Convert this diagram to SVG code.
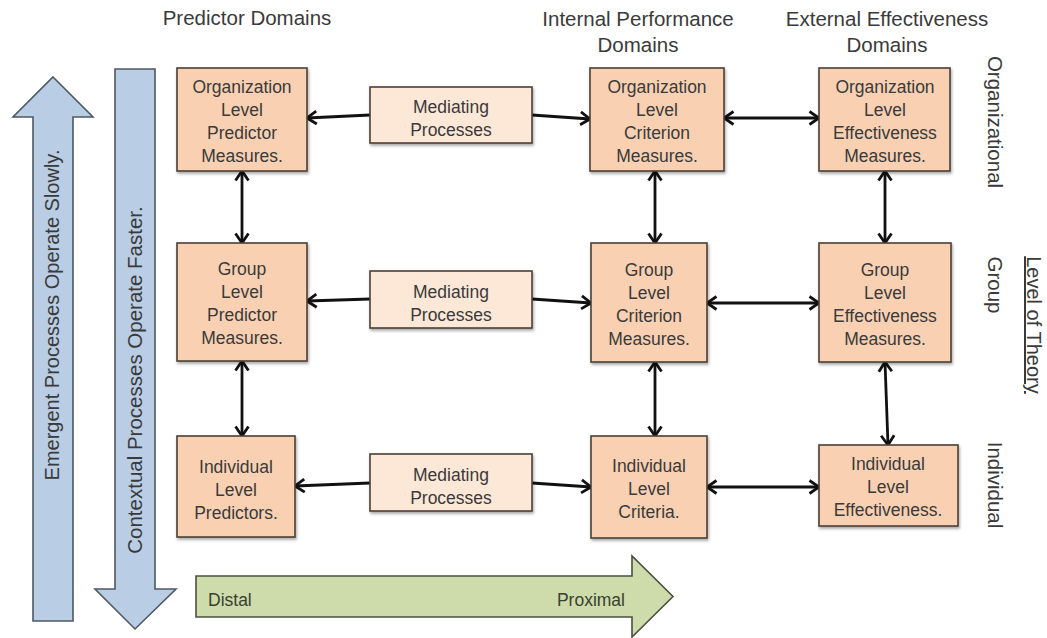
<svg xmlns="http://www.w3.org/2000/svg" width="1047" height="638" viewBox="0 0 1047 638">
<defs>
<style>
text{font-family:"Liberation Sans",Arial,sans-serif;fill:#3a3a3a}
.hd{font-size:20.5px;text-anchor:middle}
.nt{font-size:17.5px;text-anchor:middle}
.lv{font-size:20.5px;text-anchor:middle}
.big{font-size:20px;text-anchor:middle}
.node{fill:#f9d1b2;stroke:#4a4038;stroke-width:1.6}
.med{fill:#fde8d8;stroke:#4a4038;stroke-width:1.6}
.blue{fill:#b9cde4;stroke:#4f5862;stroke-width:1.6}
.green{fill:#cddcaa;stroke:#4a5040;stroke-width:1.6}
.c{fill:none;stroke:#111;stroke-width:2.8}
.c1{marker-end:url(#ah)}
.c2{marker-start:url(#ah);marker-end:url(#ah)}
</style>
<marker id="ah" viewBox="0 0 13 16" refX="11" refY="8" markerWidth="13" markerHeight="16" markerUnits="userSpaceOnUse" orient="auto-start-reverse">
<path d="M1.5,1.5 L11,8 L1.5,14.5" fill="none" stroke="#111" stroke-width="2.8" stroke-linejoin="miter"/>
</marker>
<filter id="sh" x="-10%" y="-10%" width="130%" height="130%">
<feDropShadow dx="1" dy="2" stdDeviation="1.5" flood-color="#000" flood-opacity="0.35"/>
</filter>
</defs>
<rect width="1047" height="638" fill="#fff"/>

<g id="headers">
<text class="hd" x="247" y="25">Predictor Domains</text>
<text class="hd" x="638" y="26">Internal Performance</text>
<text class="hd" x="638" y="52">Domains</text>
<text class="hd" x="887" y="26">External Effectiveness</text>
<text class="hd" x="887" y="52">Domains</text>
</g>

<g id="emergent-arrow">
<path class="blue" d="M53,77 L93,117 L73,117 L73,621 L33,621 L33,117 L13,117 Z"/>
<text class="big" transform="translate(59,315) rotate(-90)">Emergent Processes Operate Slowly.</text>
</g>
<g id="contextual-arrow">
<path class="blue" d="M115,69 L155,69 L155,589 L176,589 L135,629 L95,589 L115,589 Z"/>
<text class="big" transform="translate(142,380) rotate(-90)" style="font-size:20.5px">Contextual Processes Operate Faster.</text>
</g>
<g id="distal-proximal">
<path class="green" d="M196,576 L632,576 L632,556 L673,596.5 L632,637 L632,617 L196,617 Z"/>
<text x="208" y="606" style="font-size:17.5px;fill:#3a4030">Distal</text>
<text x="625" y="606" style="font-size:17.5px;fill:#3a4030;text-anchor:end">Proximal</text>
</g>

<g id="level-labels">
<text class="lv" transform="translate(988,122) rotate(90)">Organizational</text>
<text class="lv" transform="translate(988,285) rotate(90)">Group</text>
<text class="lv" transform="translate(988,485) rotate(90)">Individual</text>
<text class="lv" transform="translate(1027,325) rotate(90)" style="font-size:20px" text-decoration="underline">Level of Theory</text>
</g>

<g id="connectors">
<path class="c c1" d="M370,115 L307,118"/>
<path class="c c1" d="M532,115 L590,119"/>
<path class="c c2" d="M724,118 L819,118"/>
<path class="c c1" d="M370,299 L307,301"/>
<path class="c c1" d="M532,299 L591,303"/>
<path class="c c2" d="M707,303 L819,303"/>
<path class="c c1" d="M370,483 L295,486"/>
<path class="c c1" d="M532,483 L591,487"/>
<path class="c c2" d="M707,487 L819,487"/>
<path class="c c2" d="M242,171 L242,243"/>
<path class="c c2" d="M242,361 L242,436"/>
<path class="c c2" d="M655,171 L655,243"/>
<path class="c c2" d="M655,362 L655,436"/>
<path class="c c2" d="M885,171 L885,243"/>
<path class="c c2" d="M885,362 L888,445"/>
</g>

<g id="org-predictor">
<rect class="node" filter="url(#sh)" x="177" y="68" width="130" height="103"/>
<text class="nt" x="242" y="93">Organization</text>
<text class="nt" x="242" y="116">Level</text>
<text class="nt" x="242" y="139">Predictor</text>
<text class="nt" x="242" y="162">Measures.</text>
</g>
<g id="org-mediating">
<rect class="med" filter="url(#sh)" x="370" y="87" width="162" height="56"/>
<text class="nt" x="451" y="113">Mediating</text>
<text class="nt" x="451" y="136">Processes</text>
</g>
<g id="org-criterion">
<rect class="node" filter="url(#sh)" x="590" y="68" width="134" height="103"/>
<text class="nt" x="657" y="93">Organization</text>
<text class="nt" x="657" y="116">Level</text>
<text class="nt" x="657" y="139">Criterion</text>
<text class="nt" x="657" y="162">Measures.</text>
</g>
<g id="org-effectiveness">
<rect class="node" filter="url(#sh)" x="819" y="68" width="131" height="103"/>
<text class="nt" x="885" y="93">Organization</text>
<text class="nt" x="885" y="116">Level</text>
<text class="nt" x="885" y="139">Effectiveness</text>
<text class="nt" x="885" y="162">Measures.</text>
</g>

<g id="group-predictor">
<rect class="node" filter="url(#sh)" x="177" y="243" width="130" height="118"/>
<text class="nt" x="242" y="275">Group</text>
<text class="nt" x="242" y="298">Level</text>
<text class="nt" x="242" y="321">Predictor</text>
<text class="nt" x="242" y="344">Measures.</text>
</g>
<g id="group-mediating">
<rect class="med" filter="url(#sh)" x="370" y="271" width="162" height="57"/>
<text class="nt" x="451" y="298">Mediating</text>
<text class="nt" x="451" y="321">Processes</text>
</g>
<g id="group-criterion">
<rect class="node" filter="url(#sh)" x="591" y="243" width="116" height="119"/>
<text class="nt" x="649" y="276">Group</text>
<text class="nt" x="649" y="299">Level</text>
<text class="nt" x="649" y="322">Criterion</text>
<text class="nt" x="649" y="345">Measures.</text>
</g>
<g id="group-effectiveness">
<rect class="node" filter="url(#sh)" x="819" y="243" width="132" height="119"/>
<text class="nt" x="885" y="276">Group</text>
<text class="nt" x="885" y="299">Level</text>
<text class="nt" x="885" y="322">Effectiveness</text>
<text class="nt" x="885" y="345">Measures.</text>
</g>

<g id="individual-predictor">
<rect class="node" filter="url(#sh)" x="177" y="436" width="118" height="101"/>
<text class="nt" x="236" y="473">Individual</text>
<text class="nt" x="236" y="496">Level</text>
<text class="nt" x="236" y="519">Predictors.</text>
</g>
<g id="individual-mediating">
<rect class="med" filter="url(#sh)" x="370" y="454" width="162" height="57"/>
<text class="nt" x="451" y="481">Mediating</text>
<text class="nt" x="451" y="504">Processes</text>
</g>
<g id="individual-criteria">
<rect class="node" filter="url(#sh)" x="591" y="436" width="116" height="102"/>
<text class="nt" x="649" y="472">Individual</text>
<text class="nt" x="649" y="495">Level</text>
<text class="nt" x="649" y="518">Criteria.</text>
</g>
<g id="individual-effectiveness">
<rect class="node" filter="url(#sh)" x="819" y="445" width="139" height="81"/>
<text class="nt" x="888" y="470">Individual</text>
<text class="nt" x="888" y="493">Level</text>
<text class="nt" x="888" y="516">Effectiveness.</text>
</g>
</svg>
